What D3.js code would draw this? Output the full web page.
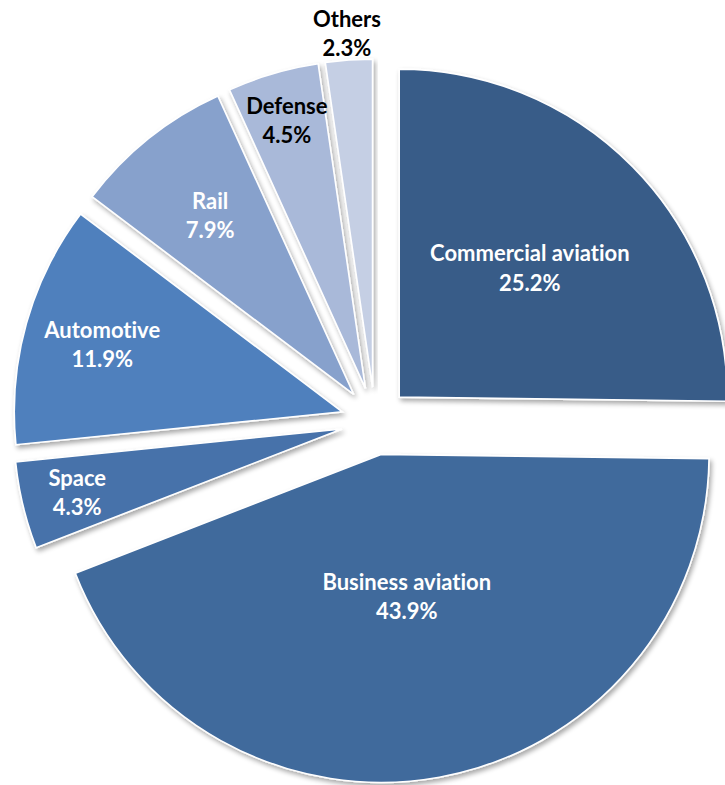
<!DOCTYPE html>
<html>
<head>
<meta charset="utf-8">
<script src="https://cdn.jsdelivr.net/npm/d3@7"></script>
<style>
  html, body { margin: 0; padding: 0; background: #ffffff; }
  svg { display: block; }
  text { font-variant-ligatures: none; font-feature-settings: "liga" 0; }
</style>
</head>
<body>
<svg id="chart" width="725" height="785"></svg>
<script>
// Market share by segment
const categories = ["Commercial aviation", "Business aviation", "Space", "Automotive", "Rail", "Defense", "Others"];
const shares = [25.2, 43.9, 4.3, 11.9, 7.9, 4.5, 2.3];
const shareLabels = ["25.2%", "43.9%", "4.3%", "11.9%", "7.9%", "4.5%", "2.3%"];

// Slice fills and label treatment
const sliceColors = ["#375b88", "#416a9c", "#4672aa", "#4f80bd", "#87a1cc", "#a9b9d9", "#c5cfe4"];
const labelColors = ["#ffffff", "#ffffff", "#ffffff", "#ffffff", "#ffffff", "#000000", "#000000"];
// label distance from each slice apex, as a fraction of the radius
const labelRadiusFactor = [0.56, 0.44, 0.83, 0.76, 0.70, 0.85, 1.08];

const width = 725, height = 785;
const cx = 375, cy = 421;
const radius = 328;
const explode = 34;
const fontSize = 22;

const svg = d3.select("#chart");

const defs = svg.append("defs");
const shadow = defs.append("filter")
  .attr("id", "sliceShadow")
  .attr("x", "-10%").attr("y", "-10%")
  .attr("width", "120%").attr("height", "120%");
shadow.append("feGaussianBlur").attr("in", "SourceAlpha").attr("stdDeviation", 2.5).attr("result", "blur");
shadow.append("feOffset").attr("in", "blur").attr("dx", 2).attr("dy", 3).attr("result", "off");
shadow.append("feComponentTransfer").attr("in", "off").attr("result", "soft")
  .append("feFuncA").attr("type", "linear").attr("slope", 0.35);
const merge = shadow.append("feMerge");
merge.append("feMergeNode").attr("in", "soft");
merge.append("feMergeNode").attr("in", "SourceGraphic");

const pie = d3.pie().sort(null).value(d => d.value);
const arcs = pie(categories.map((c, i) => ({ name: c, value: shares[i], label: shareLabels[i], idx: i })));

const arc = d3.arc().innerRadius(0).outerRadius(radius);

const g = svg.append("g").attr("transform", `translate(${cx},${cy})`);

function offsetOf(a) {
  const mid = (a.startAngle + a.endAngle) / 2;
  return [Math.sin(mid) * explode, -Math.cos(mid) * explode];
}

const slices = g.selectAll("g.slice")
  .data(arcs)
  .join("g")
  .attr("class", "slice")
  .attr("transform", a => { const o = offsetOf(a); return `translate(${o[0]},${o[1]})`; });

slices.append("path")
  .attr("d", arc)
  .attr("fill", a => sliceColors[a.data.idx])
  .attr("stroke", "#ffffff")
  .attr("stroke-width", 1.6)
  .attr("stroke-linejoin", "miter")
  .attr("filter", "url(#sliceShadow)");

const fontFamily = "Lato, 'Open Sans', 'DejaVu Sans', sans-serif";

// two-line labels centred on a point along each slice's mid-angle
slices.each(function(a) {
  const i = a.data.idx;
  const r = radius * labelRadiusFactor[i];
  const lblArc = d3.arc().innerRadius(r).outerRadius(r);
  const [lx, ly] = lblArc.centroid(a);
  const t = d3.select(this).append("text")
    .attr("x", lx)
    .attr("y", ly)
    .attr("text-anchor", "middle")
    .attr("fill", labelColors[i])
    .attr("font-family", fontFamily)
    .attr("font-weight", "bold")
    .attr("font-size", fontSize);
  t.append("tspan").attr("x", lx).attr("dy", "-0.3em").text(a.data.name);
  t.append("tspan").attr("x", lx).attr("dy", "1.32em").text(a.data.label);
});
</script>
</body>
</html>
